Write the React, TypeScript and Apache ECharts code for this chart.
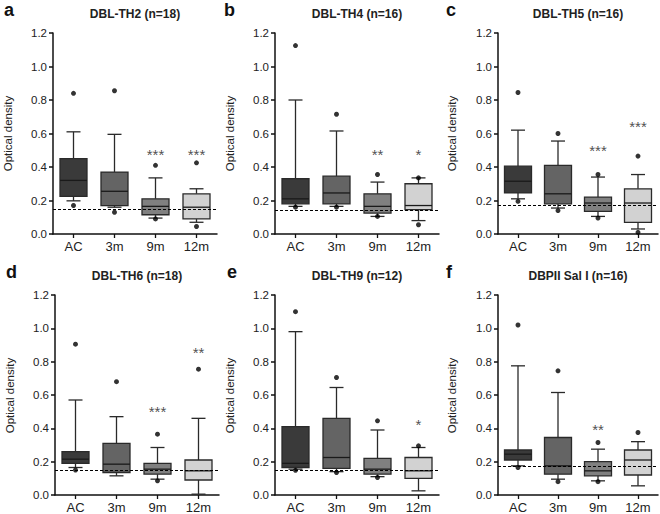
import React, { useEffect, useRef } from "react";
import * as echarts from "echarts";

const categories = ["AC", "3m", "9m", "12m"];
const panelLetters = ["a", "b", "c", "d", "e", "f"];
const panelTitles = [
  "DBL-TH2 (n=18)",
  "DBL-TH4 (n=16)",
  "DBL-TH5 (n=16)",
  "DBL-TH6 (n=18)",
  "DBL-TH9 (n=12)",
  "DBPII Sal I (n=16)",
];

// [whiskerLow, Q1, median, Q3, whiskerHigh] per category (AC, 3m, 9m, 12m)
const boxesA = [
  [0.198, 0.225, 0.32, 0.45, 0.61],
  [0.16, 0.17, 0.255, 0.37, 0.595],
  [0.095, 0.115, 0.165, 0.21, 0.335],
  [0.07, 0.09, 0.16, 0.24, 0.27],
];
const boxesB = [
  [0.165, 0.18, 0.21, 0.33, 0.8],
  [0.165, 0.18, 0.245, 0.345, 0.615],
  [0.105, 0.125, 0.165, 0.24, 0.31],
  [0.08, 0.145, 0.17, 0.3, 0.335],
];
const boxesC = [
  [0.21, 0.245, 0.315, 0.405, 0.62],
  [0.155, 0.18, 0.24, 0.41, 0.555],
  [0.105, 0.135, 0.185, 0.22, 0.34],
  [0.03, 0.07, 0.185, 0.27, 0.355],
];
const boxesD = [
  [0.165, 0.19, 0.215, 0.26, 0.57],
  [0.115, 0.135, 0.185, 0.31, 0.47],
  [0.095, 0.125, 0.155, 0.19, 0.285],
  [0.005, 0.09, 0.145, 0.21, 0.46],
];
const boxesE = [
  [0.155, 0.165, 0.19, 0.41, 0.98],
  [0.14, 0.16, 0.225, 0.46, 0.645],
  [0.11, 0.125, 0.155, 0.22, 0.39],
  [0.025, 0.1, 0.145, 0.225, 0.285],
];
const boxesF = [
  [0.175, 0.21, 0.245, 0.27, 0.775],
  [0.095, 0.125, 0.175, 0.345, 0.615],
  [0.085, 0.115, 0.145, 0.2, 0.275],
  [0.055, 0.12, 0.21, 0.27, 0.32],
];

// outliers: [categoryIndex, value]
const outliersA = [[0, 0.84], [0, 0.17], [1, 0.855], [1, 0.13], [2, 0.41], [2, 0.09], [3, 0.425], [3, 0.045]];
const outliersB = [[0, 1.125], [0, 0.16], [1, 0.715], [1, 0.16], [2, 0.355], [2, 0.105], [3, 0.335], [3, 0.055]];
const outliersC = [[0, 0.845], [0, 0.195], [1, 0.6], [1, 0.14], [2, 0.355], [2, 0.095], [3, 0.465], [3, 0.01]];
const outliersD = [[0, 0.905], [0, 0.15], [1, 0.68], [2, 0.365], [2, 0.085], [3, 0.755]];
const outliersE = [[0, 1.1], [0, 0.148], [1, 0.705], [1, 0.135], [2, 0.445], [2, 0.105], [3, 0.295]];
const outliersF = [[0, 1.02], [0, 0.165], [1, 0.745], [1, 0.08], [2, 0.315], [2, 0.08], [3, 0.375]];

// cut-off (dashed line) per panel
const cutoffs = [0.148, 0.143, 0.17, 0.15, 0.15, 0.165];

// significance marks: [categoryIndex, value, text]
const starsA: [number, number, string][] = [[2, 0.5, "***"], [3, 0.5, "***"]];
const starsB: [number, number, string][] = [[2, 0.5, "**"], [3, 0.5, "*"]];
const starsC: [number, number, string][] = [[2, 0.523, "***"], [3, 0.667, "***"]];
const starsD: [number, number, string][] = [[2, 0.523, "***"], [3, 0.88, "**"]];
const starsE: [number, number, string][] = [[3, 0.448, "*"]];
const starsF: [number, number, string][] = [[2, 0.418, "**"]];

const allBoxes = [boxesA, boxesB, boxesC, boxesD, boxesE, boxesF];
const allOutliers = [outliersA, outliersB, outliersC, outliersD, outliersE, outliersF];
const allStars = [starsA, starsB, starsC, starsD, starsE, starsF];

const fills = ["#3a3a3a", "#646464", "#808080", "#d2d2d2"];
const FONT = '"Liberation Sans", Arial, sans-serif';

// layout: axis left x, top y, width
const layout = [
  { left: 53, top: 33, width: 164, nameX: 8, letterX: 4, letterY: 1 },
  { left: 275, top: 33, width: 164, nameX: 230, letterX: 224, letterY: 1 },
  { left: 498, top: 33, width: 160, nameX: 452, letterX: 446, letterY: 1 },
  { left: 55, top: 295, width: 164, nameX: 10, letterX: 6, letterY: 263 },
  { left: 275, top: 295, width: 164, nameX: 230, letterX: 227, letterY: 263 },
  { left: 498, top: 295, width: 160, nameX: 452, letterX: 446, letterY: 263 },
];
const PLOT_H = 201;

export default function App() {
  const ref = useRef<HTMLDivElement>(null);

  useEffect(() => {
    if (!ref.current) return;
    const chart = echarts.init(ref.current, undefined, { renderer: "svg" });

    const grids: any[] = [];
    const xAxes: any[] = [];
    const yAxes: any[] = [];
    const series: any[] = [];
    const graphics: any[] = [];

    layout.forEach((L, i) => {
      grids.push({ left: L.left, top: L.top, width: L.width, height: PLOT_H, containLabel: false });
      xAxes.push({
        type: "category",
        gridIndex: i,
        data: categories,
        boundaryGap: true,
        axisLine: { lineStyle: { color: "#111", width: 1.5 } },
        axisTick: { show: true, alignWithLabel: true, length: 4, lineStyle: { color: "#111", width: 1.3 } },
        axisLabel: { color: "#222", fontSize: 13, fontFamily: FONT, margin: 6 },
        splitLine: { show: false },
      });
      yAxes.push({
        type: "value",
        gridIndex: i,
        min: 0,
        max: 1.2,
        interval: 0.2,
        axisLine: { show: true, lineStyle: { color: "#111", width: 1.5 } },
        axisTick: { show: true, length: 4, lineStyle: { color: "#111", width: 1.5 } },
        axisLabel: {
          color: "#222",
          fontSize: 11.5,
          fontFamily: FONT,
          margin: 6,
          formatter: (v: number) => v.toFixed(1),
        },
        splitLine: { show: false },
      });

      series.push({
        type: "custom",
        xAxisIndex: i,
        yAxisIndex: i,
        z: 2,
        encode: { x: 0, y: [1, 2, 3, 4, 5] },
        data: allBoxes[i].map((b, c) => [c, ...b]),
        renderItem: (params: any, api: any) => {
          const c = api.value(0) as number;
          const pts = [1, 2, 3, 4, 5].map((d) => api.coord([c, api.value(d)]));
          const cx = pts[0][0];
          const [yMin, yQ1, yMed, yQ3, yMax] = pts.map((p: number[]) => p[1]);
          const half = 13.5;
          const cap = 7;
          const stroke = "#2a2a2a";
          const lw = 1.3;
          const st = { stroke, lineWidth: lw };
          return {
            type: "group",
            children: [
              { type: "line", shape: { x1: cx, y1: yMax, x2: cx, y2: yQ3 }, style: st },
              { type: "line", shape: { x1: cx, y1: yQ1, x2: cx, y2: yMin }, style: st },
              { type: "line", shape: { x1: cx - cap, y1: yMax, x2: cx + cap, y2: yMax }, style: st },
              { type: "line", shape: { x1: cx - cap, y1: yMin, x2: cx + cap, y2: yMin }, style: st },
              {
                type: "rect",
                shape: { x: cx - half, y: yQ3, width: half * 2, height: yQ1 - yQ3 },
                style: { fill: fills[c], stroke, lineWidth: lw },
              },
              { type: "line", shape: { x1: cx - half, y1: yMed, x2: cx + half, y2: yMed }, style: { stroke: "#1a1a1a", lineWidth: 1.3 } },
            ],
          };
        },
      });

      series.push({
        type: "scatter",
        xAxisIndex: i,
        yAxisIndex: i,
        z: 4,
        symbol: "circle",
        symbolSize: 5,
        itemStyle: { color: "#000" },
        data: allOutliers[i],
        markLine: {
          silent: true,
          symbol: ["none", "none"],
          label: { show: false },
          lineStyle: { type: [3, 2], color: "#000", width: 1.1 },
          data: [{ yAxis: cutoffs[i] }],
        },
      });

      series.push({
        type: "scatter",
        xAxisIndex: i,
        yAxisIndex: i,
        z: 5,
        symbolSize: 0,
        silent: true,
        data: allStars[i].map((s) => ({ name: s[2], value: [s[0], s[1]] })),
        label: {
          show: true,
          position: "inside",
          formatter: "{b}",
          color: "#222",
          fontSize: 15,
          fontFamily: FONT,
          offset: [0, 4],
        },
      });

      // panel letter
      graphics.push({
        type: "text",
        x: L.letterX,
        y: L.letterY,
        style: {
          text: panelLetters[i],
          font: `bold 18px ${FONT}`,
          fill: "#111",
          align: "left",
          textAlign: "left",
          verticalAlign: "top",
          textVerticalAlign: "top",
        },
      });
      // panel title
      graphics.push({
        type: "text",
        x: L.left + L.width / 2,
        y: L.top - 25,
        style: {
          text: panelTitles[i],
          font: `bold 12px ${FONT}`,
          fill: "#222",
          align: "center",
          textAlign: "center",
          verticalAlign: "top",
          textVerticalAlign: "top",
        },
      });
      // y axis name
      graphics.push({
        type: "text",
        x: L.nameX,
        y: L.top + PLOT_H / 2,
        rotation: Math.PI / 2,
        style: {
          text: "Optical density",
          font: `11.5px ${FONT}`,
          fill: "#222",
          align: "center",
          textAlign: "center",
          verticalAlign: "middle",
          textVerticalAlign: "middle",
        },
      });
    });

    chart.setOption({
      animation: false,
      backgroundColor: "#fff",
      grid: grids,
      xAxis: xAxes,
      yAxis: yAxes,
      series,
      graphic: graphics,
    });

    return () => chart.dispose();
  }, []);

  return (
    <div
      ref={ref}
      style={{ position: "fixed", left: 0, top: 0, width: 660, height: 514, background: "#fff" }}
    />
  );
}
